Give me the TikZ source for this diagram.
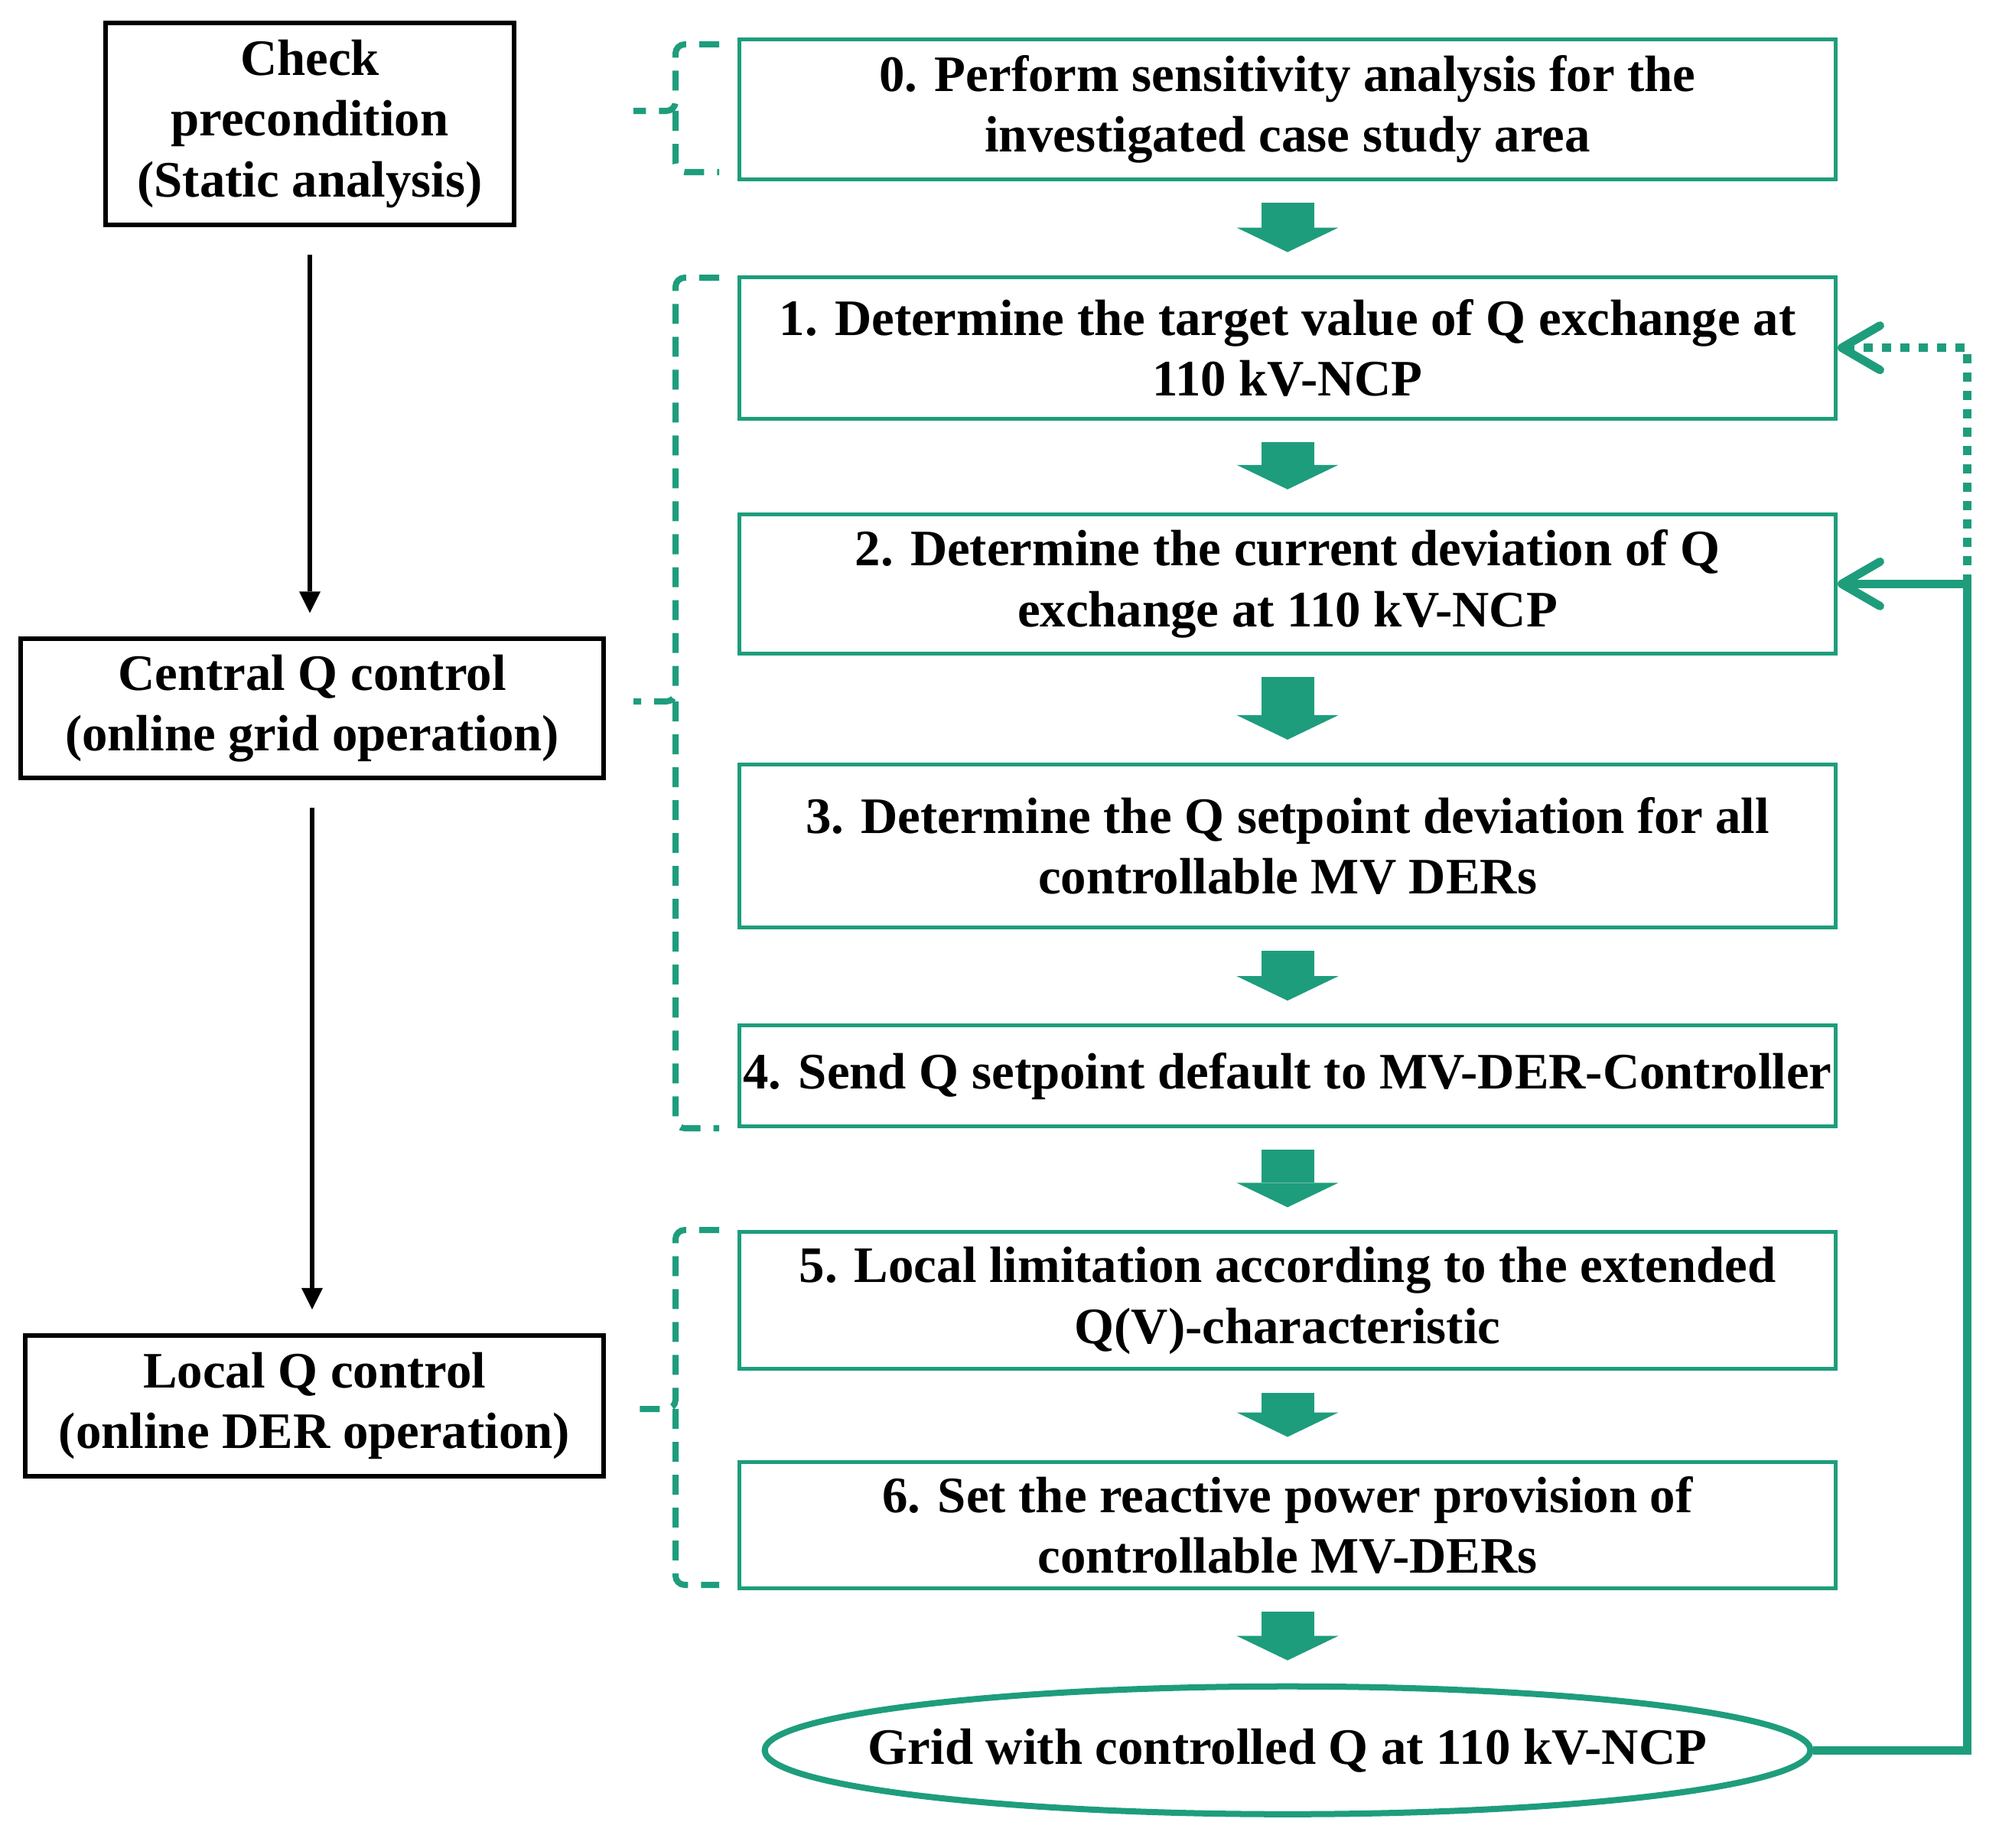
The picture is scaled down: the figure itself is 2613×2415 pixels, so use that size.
\documentclass[tikz,border=0pt]{standalone}
\usepackage{fontspec}
\setmainfont{Liberation Serif}
\usepackage{xcolor}
\usetikzlibrary{arrows.meta,positioning,shapes.geometric,calc}
\definecolor{qgreen}{RGB}{30,157,124}
\tikzset{
  box/.style={draw, align=center, font=\bfseries\fontsize{19}{22.5}\selectfont,
              inner sep=4pt, line width=0.05cm},
  stepbox/.style={box, draw=qgreen, minimum width=14.32cm, minimum height=1.82cm},
  ctrl/.style={box, draw=black, line width=0.06cm},
  goal/.style={box, ellipse, draw=qgreen, line width=0.08cm, inner xsep=-0.8cm,
               minimum width=13.66cm, minimum height=1.67cm},
  blk/.style={-{Triangle[length=0.32cm, width=1.33cm, line width=0pt]}, line width=0.69cm,
              qgreen, shorten <=0.28cm, shorten >=0.30cm},
  down/.style={-{Triangle[length=0.28cm, width=0.28cm, line width=0pt]}, line width=0.06cm,
               shorten <=0.36cm, shorten >=0.31cm},
  brk/.style={qgreen, line width=0.08cm, dash pattern=on 0.26cm off 0.17cm,
              rounded corners=0.12cm},
  feed/.style={qgreen, line width=0.11cm, -{Straight Barb[length=0.5cm, width=0.58cm, round]}},
}
\begin{document}
\begin{tikzpicture}[x=0.01cm, y=-0.01cm, node distance=1.23cm]
  \useasboundingbox (0,0) rectangle (2613,2415);
  % left column
  \node[ctrl, minimum width=5.34cm, minimum height=2.63cm] (chk) at (405,162)
    {Check\\precondition\\(Static analysis)};
  \node[ctrl, minimum width=7.61cm, minimum height=1.81cm] (cen) at (408,926)
    {Central Q control\\(online grid operation)};
  \node[ctrl, minimum width=7.56cm, minimum height=1.84cm] (loc) at (411,1838)
    {Local Q control\\(online DER operation)};
  \draw[down] (chk.south) -- (chk.south |- cen.north);
  \draw[down] (cen.south) -- (cen.south |- loc.north);
  % right column
  \node[stepbox] (b0) at (1683,143)
    {0. Perform sensitivity analysis for the\\investigated case study area};
  \node[stepbox, minimum height=1.85cm, below=of b0] (b1)
    {1. Determine the target value of Q exchange at\\110 kV-NCP};
  \node[stepbox, below=1.20cm of b1] (b2)
    {2. Determine the current deviation of Q\\exchange at 110 kV-NCP};
  \node[stepbox, minimum height=2.13cm, below=1.40cm of b2] (b3)
    {3. Determine the Q setpoint deviation for all\\controllable MV DERs};
  \node[stepbox, minimum height=1.32cm, inner xsep=1pt, below=of b3] (b4)
    {4. Send Q setpoint default to MV-DER-Controller};
  \node[stepbox, minimum height=1.79cm, below=1.33cm of b4] (b5)
    {5. Local limitation according to the extended\\Q(V)-characteristic};
  \node[stepbox, minimum height=1.65cm, below=1.16cm of b5] (b6)
    {6. Set the reactive power provision of\\controllable MV-DERs};
  \node[goal, below=1.22cm of b6] (ell) {Grid with controlled Q at 110 kV-NCP};
  \foreach \i/\j in {b0/b1,b1/b2,b2/b3,b3/b4,b4/b5,b5/b6,b6/ell} \draw[blk] (\i.south) -- (\j.north);
  % brackets
  \foreach \t/\m/\b in {58/145/225, 363/917/1475, 1608/1842/2072}
    \draw[brk] (940,\t) -| (883,\m) -- (828,\m) (883,\m) |- (940,\b);
  % feedback
  \coordinate (fb) at ($(b2.east)+(170,0)$);
  \draw[feed] (ell.east) -| (fb) -- (b2.east);
  \draw[feed, dash pattern=on 0.12cm off 0.12cm] (fb) |- (b1.east);
\end{tikzpicture}
\end{document}
